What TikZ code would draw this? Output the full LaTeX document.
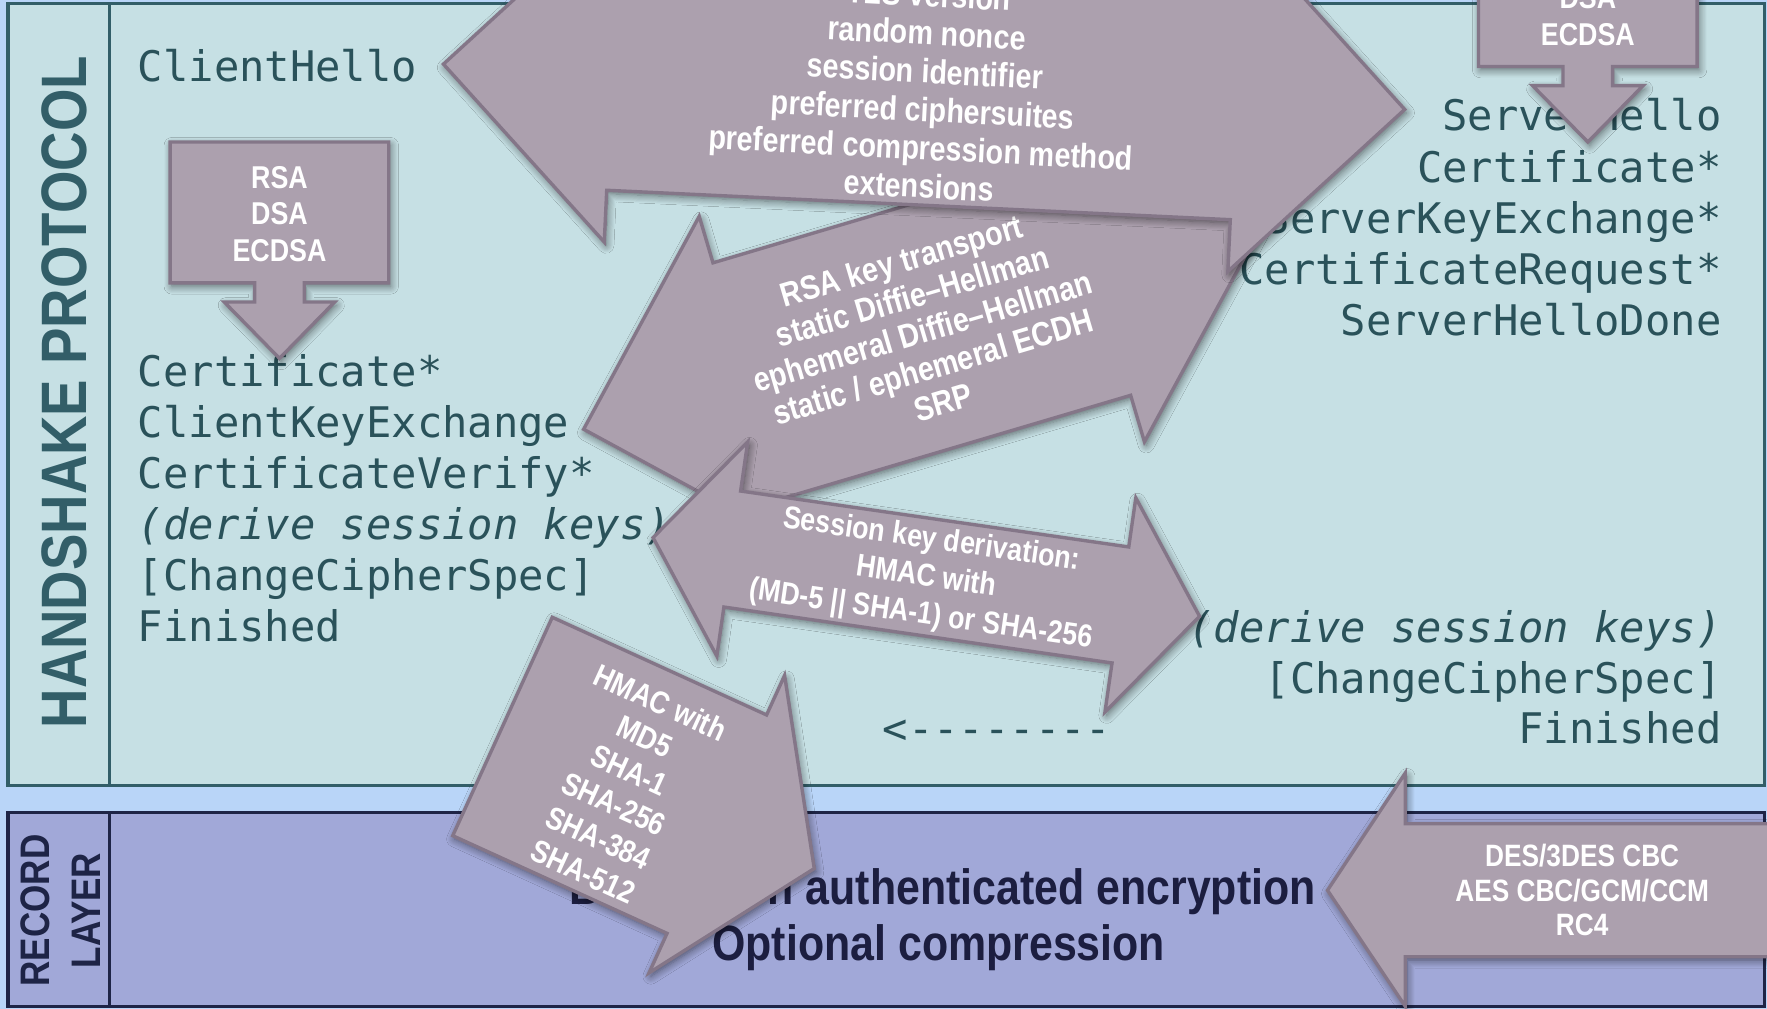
\documentclass[tikz,border=0pt]{standalone}
\usepackage{fontspec}
\setmainfont{Liberation Sans}
\newfontfamily\monof{DejaVu Sans Mono}
\newfontfamily\nsans[FakeStretch=0.85,Ligatures=TeX]{Liberation Sans}
\newfontfamily\rsans[FakeStretch=0.865,Ligatures=TeX]{Liberation Sans}
\usetikzlibrary{shadows.blur}
\definecolor{bgblue}{RGB}{185,213,248}
\definecolor{hsfill}{RGB}{198,224,228}
\definecolor{hsline}{RGB}{50,94,104}
\definecolor{hstext}{RGB}{42,82,90}
\definecolor{rlfill}{RGB}{161,168,216}
\definecolor{rlline}{RGB}{30,36,70}
\definecolor{rltext}{RGB}{28,30,64}
\definecolor{shfill}{RGB}{172,160,174}
\definecolor{shline}{RGB}{132,118,136}
\begin{document}
\begin{tikzpicture}[x=0.5pt,y=-0.5pt,
  shp/.style={fill=shfill, draw=shline, line width=1.5pt, line join=miter,
    blur shadow={shadow xshift=0.8pt, shadow yshift=-1.5pt, shadow blur radius=3.5pt, shadow blur steps=8, shadow opacity=55}},
  wtxt/.style={text=white, align=center, inner sep=0pt, font=\nsans\bfseries\fontsize{14}{16.5}\selectfont},
  wbig/.style={text=white, align=center, inner sep=0pt, font=\nsans\bfseries\fontsize{15}{17}\selectfont},
  mono/.style={text=hstext, inner sep=0pt, font=\monof\fontsize{18.7}{22}\selectfont},
  monoit/.style={text=hstext, inner sep=0pt, font=\monof\itshape\fontsize{18.7}{22}\selectfont},
  rltxt/.style={text=rltext, inner sep=0pt, anchor=base, font=\rsans\bfseries\fontsize{22}{24.5}\selectfont}
]
\useasboundingbox (0,0) rectangle (1568,895);
\clip (0,0) rectangle (1568,895);
\fill[bgblue] (0,0) rectangle (1568,895);
% panels
\draw[hsline, line width=1.5pt, fill=hsfill] (7,3) rectangle (1566,697);
\draw[hsline, line width=1.5pt] (97,3) -- (97,697);
\draw[rlline, line width=1.5pt, fill=rlfill] (7,721) rectangle (1566,893);
\draw[rlline, line width=1.5pt] (97,721) -- (97,893);
% side labels
\node[rotate=90, text=hsline, inner sep=0pt, font=\nsans\bfseries\fontsize{28.5}{30}\selectfont] (hslabel) at (57,348) {HANDSHAKE PROTOCOL};
\node[rotate=90, text=rlline, inner sep=0pt, align=center, font=\nsans\bfseries\fontsize{18.3}{22.5}\selectfont] (rllabel) at (53.5,808) {RECORD\\LAYER};
% client messages
\node[mono, anchor=base west] (ch) at (122,72) {ClientHello};
\node[mono, anchor=base west] (ccert) at (122,343) {Certificate*};
\node[mono, anchor=base west] (ckx) at (122,388.2) {ClientKeyExchange};
\node[mono, anchor=base west] (cv) at (122,433.4) {CertificateVerify*};
\node[monoit, anchor=base west] (cder) at (122,478.6) {(derive session keys)};
\node[mono, anchor=base west] (cccs) at (122,523.8) {[ChangeCipherSpec]};
\node[mono, anchor=base west] (cfin) at (122,569) {Finished};
% server messages
\node[mono, anchor=base east] (sh) at (1528,116) {ServerHello};
\node[mono, anchor=base east] (scert) at (1528,161.5) {Certificate*};
\node[mono, anchor=base east] (skx) at (1528,207) {ServerKeyExchange*};
\node[mono, anchor=base east] (sreq) at (1528,252.5) {CertificateRequest*};
\node[mono, anchor=base east] (shd) at (1528,298) {ServerHelloDone};
\node[monoit, anchor=base east] (sder) at (1528,570) {(derive session keys)};
\node[mono, anchor=base east] (sccs) at (1528,615) {[ChangeCipherSpec]};
\node[mono, anchor=base east] (sfin) at (1528,660) {Finished};
\node[mono, anchor=base west] (back) at (783,660) {<--------};
% record layer text
\node[rltxt, anchor=base east] (rl1) at (1168,803) {Bidirection authenticated encryption};
\node[rltxt] (rl2) at (833,852) {Optional compression};
% key exchange arrow
\begin{scope}[shift={(818,292)}, rotate=16.5]
\draw[shp] (-313,0) -- (-161,-152) -- (-161,-109) -- (161,-109) -- (161,-152) -- (313,0) -- (161,152) -- (161,109) -- (-161,109) -- (-161,152) -- cycle;
\node[wbig, rotate=16.5, font=\nsans\bfseries\fontsize{15}{16.4}\selectfont] (kx) at (0,2) {RSA key transport\\static Diffie\textendash Hellman\\ephemeral Diffie\textendash Hellman\\static / ephemeral ECDH\\SRP};
\end{scope}
% hello arrow
\begin{scope}[shift={(820,77)}, rotate=-2.7]
\draw[shp] (-427,0) -- (-277,-151) -- (-277,-105) -- (277,-105) -- (277,-151) -- (427,0) -- (277,151) -- (277,105) -- (-277,105) -- (-277,151) -- cycle;
\node[wbig, rotate=-3] (hello) at (0,3) {TLS version\\random nonce\\session identifier\\preferred ciphersuites\\preferred compression method\\extensions};
\end{scope}
% session key arrow
\begin{scope}[shift={(822,512)}, rotate=-8.2]
\draw[shp] (-245,0) -- (-174,-96) -- (-174,-52) -- (174,-52) -- (174,-96) -- (245,0) -- (174,96) -- (174,52) -- (-174,52) -- (-174,96) -- cycle;
\node[wtxt, rotate=-8.2, font=\nsans\bfseries\fontsize{14}{16.75}\selectfont] (skd) at (0,1) {Session key derivation:\\HMAC with\\(MD-5 || SHA-1) or SHA-256};
\end{scope}
% HMAC arrow
\begin{scope}[shift={(541,688)}, rotate=-24.5]
\draw[shp] (-104.5,-106.5) -- (104.5,-106.5) -- (104.5,-145) -- (199.5,0) -- (104.5,145) -- (104.5,106.5) -- (-104.5,106.5) -- cycle;
\node[wtxt, rotate=-24.5] (hmac) at (14,5) {HMAC with\\MD5\\SHA-1\\SHA-256\\SHA-384\\SHA-512};
\end{scope}
% cipher arrow
\draw[shp] (1178,790) -- (1247,686) -- (1247,731) -- (1600,731) -- (1600,849) -- (1247,849) -- (1247,893) -- cycle;
\node[wtxt, font=\nsans\bfseries\fontsize{13.7}{15.25}\selectfont] (ciph) at (1404,790) {DES/3DES CBC\\AES CBC/GCM/CCM\\RC4};
% certificate arrows
\draw[shp] (151,126) -- (345,126) -- (345,251) -- (270,251) -- (270,268) -- (297,268) -- (248,318) -- (199,268) -- (226,268) -- (226,251) -- (151,251) -- cycle;
\node[wtxt, font=\nsans\bfseries\fontsize{14}{16.25}\selectfont] (csig) at (248,190) {RSA\\DSA\\ECDSA};
\begin{scope}[shift={(1161,-192)}]
\draw[shp] (151,126) -- (345,126) -- (345,251) -- (270,251) -- (270,268) -- (297,268) -- (248,318) -- (199,268) -- (226,268) -- (226,251) -- (151,251) -- cycle;
\node[wtxt, font=\nsans\bfseries\fontsize{14}{16.25}\selectfont] (ssig) at (248,190) {RSA\\DSA\\ECDSA};
\end{scope}
\end{tikzpicture}
\end{document}
